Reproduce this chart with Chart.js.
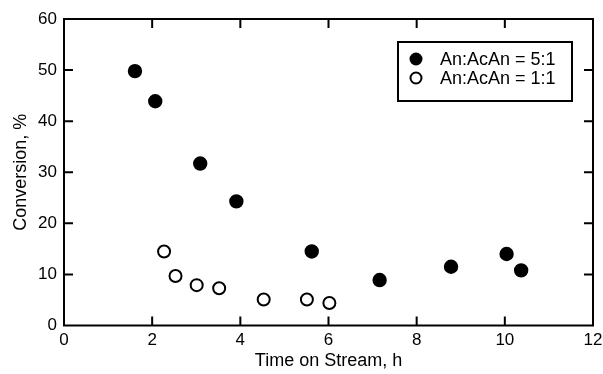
<!DOCTYPE html>
<html>
<head>
<meta charset="utf-8">
<script src="https://cdn.jsdelivr.net/npm/chart.js@4/dist/chart.umd.min.js"></script>
<style>
  html, body { margin: 0; padding: 0; background: #fff; }
  #wrap { width: 603px; height: 374px; position: relative; }
</style>
</head>
<body>
<div id="wrap"><canvas id="chart"></canvas></div>
<script>
// An:AcAn = 5:1 (filled)
const timeA = [1.61, 2.07, 3.09, 3.91, 5.62, 7.16, 8.78, 10.04, 10.37]
const convA = [49.8, 43.9, 31.7, 24.3, 14.5, 8.9, 11.5, 14.0, 10.8]
// An:AcAn = 1:1 (open)
const timeB = [2.27, 2.53, 3.01, 3.52, 4.53, 5.51, 6.02]
const convB = [14.5, 9.7, 7.9, 7.3, 5.1, 5.1, 4.4]

const labelA = 'An:AcAn = 5:1'
const labelB = 'An:AcAn = 1:1'
const xTitle = 'Time on Stream, h'
const yTitle = 'Conversion, %'

const FONT = "'Liberation Sans', Arial, Helvetica, sans-serif"
Chart.defaults.color = '#000'
Chart.defaults.font.family = FONT

function toPoints(xs, ys) {
  return xs.map((x, i) => ({ x: x, y: ys[i] }))
}

// frame + inward ticks on all four sides
const framePlugin = {
  id: 'frame',
  afterDatasetsDraw(chart) {
    const ctx = chart.ctx
    const a = chart.chartArea
    const xs = chart.scales.x
    const ys = chart.scales.y
    const len = 9
    ctx.save()
    ctx.strokeStyle = '#000'
    ctx.lineWidth = 2
    ctx.strokeRect(a.left, a.top, a.right - a.left, a.bottom - a.top)
    ctx.beginPath()
    xs.ticks.forEach(t => {
      const px = xs.getPixelForValue(t.value)
      if (px <= a.left + 1 || px >= a.right - 1) return
      ctx.moveTo(px, a.bottom); ctx.lineTo(px, a.bottom - len)
      ctx.moveTo(px, a.top); ctx.lineTo(px, a.top + len)
    })
    ys.ticks.forEach(t => {
      const py = ys.getPixelForValue(t.value)
      if (py <= a.top + 1 || py >= a.bottom - 1) return
      ctx.moveTo(a.left, py); ctx.lineTo(a.left + len, py)
      ctx.moveTo(a.right, py); ctx.lineTo(a.right - len, py)
    })
    ctx.stroke()
    ctx.restore()
  }
}

// boxed legend in the upper right of the plot
const legendPlugin = {
  id: 'boxLegend',
  afterDraw(chart) {
    const ctx = chart.ctx
    const box = { x: 398, y: 42, w: 174, h: 59 }
    ctx.save()
    ctx.fillStyle = '#fff'
    ctx.fillRect(box.x, box.y, box.w, box.h)
    ctx.strokeStyle = '#000'
    ctx.lineWidth = 2
    ctx.strokeRect(box.x, box.y, box.w, box.h)
    ctx.font = '18px ' + FONT
    ctx.textBaseline = 'middle'
    ctx.textAlign = 'left'
    chart.data.datasets.forEach((ds, i) => {
      const cy = box.y + 17 + i * 19
      ctx.beginPath()
      ctx.arc(416, cy, 5.5, 0, Math.PI * 2)
      ctx.fillStyle = ds.backgroundColor
      ctx.fill()
      ctx.lineWidth = 2
      ctx.strokeStyle = '#000'
      ctx.stroke()
      ctx.fillStyle = '#000'
      ctx.fillText(ds.label, 440, cy + 1)
    })
    ctx.restore()
  }
}

const ctx = document.getElementById('chart').getContext('2d')
const chart = new Chart(ctx, {
  type: 'scatter',
  data: {
    datasets: [
      {
        label: labelA,
        data: toPoints(timeA, convA),
        backgroundColor: '#000',
        borderColor: '#000',
        borderWidth: 2,
        pointRadius: 6.2,
        pointHoverRadius: 6.2
      },
      {
        label: labelB,
        data: toPoints(timeB, convB),
        backgroundColor: '#fff',
        borderColor: '#000',
        borderWidth: 2,
        pointRadius: 6,
        pointHoverRadius: 6
      }
    ]
  },
  options: {
    responsive: true,
    maintainAspectRatio: false,
    animation: false,
    layout: { padding: { top: 19, right: 10, left: 0, bottom: 0 } },
    plugins: {
      legend: { display: false },
      tooltip: { enabled: false }
    },
    scales: {
      x: {
        type: 'linear',
        min: 0,
        max: 12,
        grid: { display: false, drawTicks: false },
        border: { display: false },
        ticks: { stepSize: 2, padding: 5, font: { size: 17 } },
        title: { display: true, text: xTitle, font: { size: 18 }, padding: { top: 0, bottom: 2 } },
        afterFit(scale) {
          scale.height = 48.5
          scale.paddingLeft = 0
          scale.paddingRight = 0
        }
      },
      y: {
        min: 0,
        max: 60,
        grid: { display: false, drawTicks: false },
        border: { display: false },
        ticks: { stepSize: 10, padding: 7, font: { size: 17 } },
        title: { display: true, text: yTitle, font: { size: 18 }, padding: { top: 10, bottom: 0 } },
        afterFit(scale) {
          scale.width = 64
          scale.paddingTop = 0
          scale.paddingBottom = 0
        }
      }
    }
  },
  plugins: [framePlugin, legendPlugin]
})
</script>
</body>
</html>
